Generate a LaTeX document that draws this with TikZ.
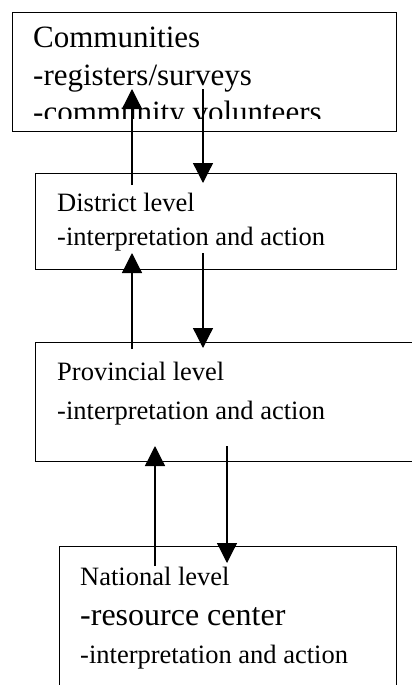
\documentclass[tikz,border=0pt]{standalone}
\usepackage{fontspec}
\setmainfont{Liberation Serif}
\usetikzlibrary{arrows.meta}

\tikzset{
  levelbox/.style={draw, line width=1.3pt, inner sep=0pt, anchor=north west},
  line/.style={inner sep=0pt, anchor=base west},
  flow/.style={line width=1.3pt, -{Triangle[width=20pt,length=20pt]}},
}
\newcommand{\bigtxt}{\fontsize{31}{36}\selectfont}
\newcommand{\midtxt}{\fontsize{26.5}{31}\selectfont}

\begin{document}
\begin{tikzpicture}[x=1pt,y=-1pt]
\clip (0,0) rectangle (412,685);
\fill[white] (0,0) rectangle (412,685);

% boxes
\node[levelbox, minimum width=384pt, minimum height=119pt] (comm) at (12,12) {};
\node[levelbox, minimum width=361pt, minimum height=96pt] (dist) at (35,173) {};
\node[levelbox, minimum width=400pt, minimum height=119pt] (prov) at (35,342) {};
\node[levelbox, minimum width=337pt, minimum height=160pt] (nat) at (59,546) {};

% texts
\node[line] (comm1) at (33,48) {\bigtxt Communities};
\node[line] (comm2) at (33,85) {\bigtxt -registers/surveys};
\node[line] (comm3) at (33,122) {\bigtxt -community volunteers};
\fill[white] (13,119) rectangle (395,130.3);

\node[line] (dist1) at (57,211) {\midtxt District level};
\node[line] (dist2) at (57,245) {\midtxt -interpretation and action};

\node[line] (prov1) at (57,380) {\midtxt Provincial level};
\node[line] (prov2) at (57,419) {\midtxt -interpretation and action};

\node[line] (nat1) at (80,585) {\midtxt National level};
\node[line] (nat2) at (80,625) {\fontsize{32}{37}\selectfont -resource center};
\node[line] (nat3) at (80,663) {\midtxt -interpretation and action};

% arrow ends
\coordinate (dist-up) at (132,185);
\coordinate (comm-in) at (132,89);
\coordinate (comm-out) at (203,89);
\coordinate (dist-in) at (203,183);

\coordinate (prov-up) at (132,349);
\coordinate (dist-tip) at (132,253);
\coordinate (dist-out) at (203,253);
\coordinate (prov-in) at (203,348);

\coordinate (nat-up) at (155,566);
\coordinate (prov-tip) at (155,446);
\coordinate (prov-out) at (227,446);
\coordinate (nat-in) at (227,563);

\draw[flow] (dist-up) -- (comm-in);
\draw[flow] (comm-out) -- (dist-in);
\draw[flow] (prov-up) -- (dist-tip);
\draw[flow] (dist-out) -- (prov-in);
\draw[flow] (nat-up) -- (prov-tip);
\draw[flow] (prov-out) -- (nat-in);

\end{tikzpicture}
\end{document}
